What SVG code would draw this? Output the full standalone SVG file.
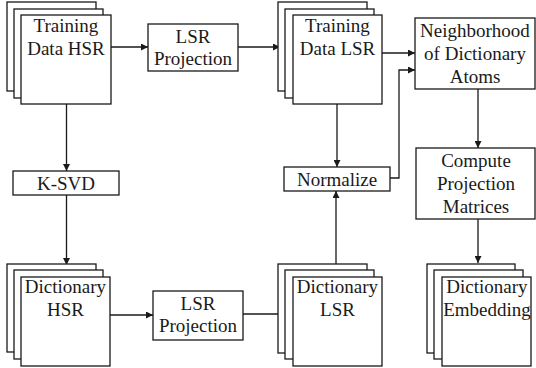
<svg xmlns="http://www.w3.org/2000/svg" width="536" height="368" viewBox="0 0 536 368">
  <defs>
    <marker id="arrow" viewBox="0 0 10 10" refX="10" refY="5" markerWidth="8" markerHeight="7" markerUnits="userSpaceOnUse" orient="auto">
      <path d="M0,0 L10,5 L0,10 z" fill="#1a1a1a"/>
    </marker>
    <style>
      .box { fill: #ffffff; stroke: #1a1a1a; stroke-width: 1.3; }
      .wire { fill: none; stroke: #1a1a1a; stroke-width: 1.3; marker-end: url(#arrow); }
      .lbl { font-size: 19px; fill: #1a1a1a; text-anchor: middle; }
    </style>
  </defs>
  <rect width="536" height="368" fill="#ffffff"/>

  <!-- connectors -->
  <g id="connectors">
    <path class="wire" d="M111,47 H148"/>
    <path class="wire" d="M238,47 H280"/>
    <path class="wire" d="M382,53 H415"/>
    <path class="wire" d="M390,178 H399 V70 H415"/>
    <path class="wire" d="M66.5,104 V171"/>
    <path class="wire" d="M66.5,195 V265"/>
    <path class="wire" d="M110,315 H153"/>
    <path class="wire" d="M243,314 H285"/>
    <path class="wire" d="M336,264 V191"/>
    <path class="wire" d="M337,104 V167"/>
    <path class="wire" d="M478,89 V148"/>
    <path class="wire" d="M478,219 V263"/>
  </g>

  <g font-family="'Liberation Serif', 'DejaVu Serif', serif">
  <!-- stacked sheets: training data (HSR) -->
  <g id="training-hsr">
    <rect class="box" x="7" y="2" width="89" height="89"/>
    <rect class="box" x="14" y="9" width="89" height="89"/>
    <rect class="box" x="21" y="15" width="90" height="89"/>
    <text class="lbl" x="66" y="32">Training</text>
    <text class="lbl" x="66" y="55">Data HSR</text>
  </g>

  <g id="lsr-projection-1">
    <rect class="box" x="148" y="24" width="90" height="47"/>
    <text class="lbl" x="193" y="43">LSR</text>
    <text class="lbl" x="193" y="65">Projection</text>
  </g>

  <!-- stacked sheets: training data (LSR) -->
  <g id="training-lsr">
    <rect class="box" x="278" y="2" width="89" height="89"/>
    <rect class="box" x="285" y="9" width="89" height="89"/>
    <rect class="box" x="293" y="15" width="89" height="89"/>
    <text class="lbl" x="337.5" y="32">Training</text>
    <text class="lbl" x="337.5" y="55">Data LSR</text>
  </g>

  <g id="neighborhood">
    <rect class="box" x="415" y="18" width="120" height="71"/>
    <text class="lbl" x="475" y="37">Neighborhood</text>
    <text class="lbl" x="475" y="60">of Dictionary</text>
    <text class="lbl" x="475" y="83">Atoms</text>
  </g>

  <g id="ksvd">
    <rect class="box" x="13" y="171" width="106" height="24"/>
    <text class="lbl" x="66" y="190">K-SVD</text>
  </g>

  <g id="normalize">
    <rect class="box" x="284" y="167" width="106" height="24"/>
    <text class="lbl" x="337" y="186">Normalize</text>
  </g>

  <g id="compute-projection">
    <rect class="box" x="416" y="148" width="119" height="71"/>
    <text class="lbl" x="476" y="167">Compute</text>
    <text class="lbl" x="476" y="190">Projection</text>
    <text class="lbl" x="476" y="213">Matrices</text>
  </g>

  <!-- stacked sheets: dictionary (HSR) -->
  <g id="dictionary-hsr">
    <rect class="box" x="7" y="264" width="89" height="88"/>
    <rect class="box" x="14" y="270" width="89" height="89"/>
    <rect class="box" x="21" y="277" width="89" height="89"/>
    <text class="lbl" x="65.5" y="293">Dictionary</text>
    <text class="lbl" x="65.5" y="316">HSR</text>
  </g>

  <g id="lsr-projection-2">
    <rect class="box" x="153" y="291" width="90" height="49"/>
    <text class="lbl" x="198" y="310">LSR</text>
    <text class="lbl" x="198" y="332">Projection</text>
  </g>

  <!-- stacked sheets: dictionary (LSR) -->
  <g id="dictionary-lsr">
    <rect class="box" x="278" y="264" width="89" height="89"/>
    <rect class="box" x="285" y="270" width="89" height="89"/>
    <rect class="box" x="293" y="277" width="89" height="89"/>
    <text class="lbl" x="337.5" y="293">Dictionary</text>
    <text class="lbl" x="337.5" y="316">LSR</text>
  </g>

  <!-- stacked sheets: dictionary embedding -->
  <g id="dictionary-embedding">
    <rect class="box" x="427" y="264" width="88" height="89"/>
    <rect class="box" x="434" y="270" width="89" height="89"/>
    <rect class="box" x="442" y="277" width="89" height="89"/>
    <text class="lbl" x="487" y="293">Dictionary</text>
    <text class="lbl" x="487" y="316">Embedding</text>
  </g>
  </g>
</svg>
